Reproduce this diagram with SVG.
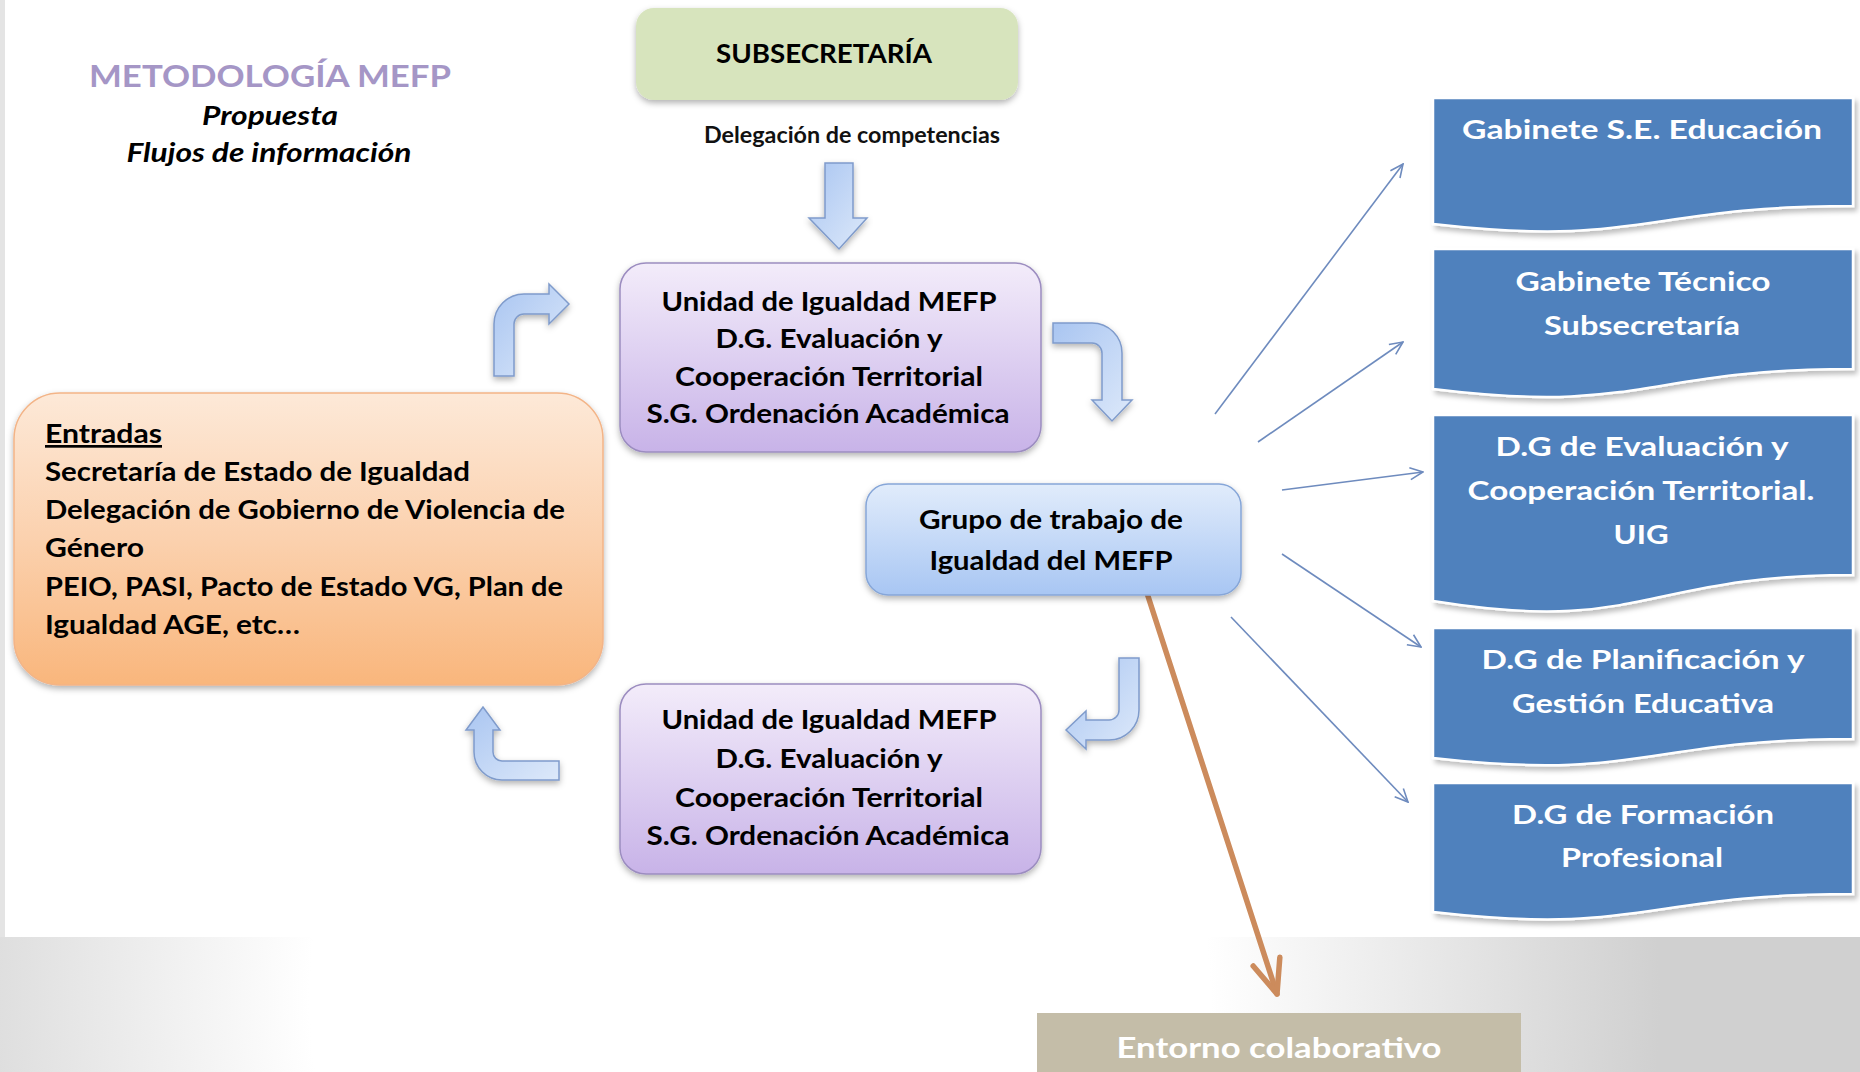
<svg xmlns="http://www.w3.org/2000/svg" width="1860" height="1072" viewBox="0 0 1860 1072">
<defs>
<style>
.t{font-family:Lato,"Liberation Sans","DejaVu Sans",sans-serif;font-weight:bold;}
.blk{fill:#000;}
.wht{fill:#fff;}
.ctr{text-anchor:middle;}
.f27{font-size:27px;}
.f26{font-size:26px;}
.purple{fill:url(#gPurple);stroke:#9C8DC0;stroke-width:1.5;}
.doc{fill:#4F81BD;stroke:#fff;stroke-width:2.5;}
.barrow{fill:url(#gArrow);stroke:#7F9BCB;stroke-width:1.5;}
.conn{stroke:#6E8BBE;stroke-width:1.6;fill:none;}
</style>
<radialGradient id="gBg" cx="760" cy="1000" r="900" gradientUnits="userSpaceOnUse">
<stop offset="0" stop-color="#ffffff"/>
<stop offset="0.5" stop-color="#ffffff"/>
<stop offset="1" stop-color="#d0d0d0"/>
</radialGradient>
<linearGradient id="gPurple" x1="0" y1="0" x2="0" y2="1">
<stop offset="0" stop-color="#F3ECFA"/>
<stop offset="1" stop-color="#C8B3E8"/>
</linearGradient>
<linearGradient id="gOrange" x1="0" y1="0" x2="0" y2="1">
<stop offset="0" stop-color="#FDE9D8"/>
<stop offset="0.5" stop-color="#FBD1AE"/>
<stop offset="1" stop-color="#F9B67C"/>
</linearGradient>
<linearGradient id="gBlue" x1="0" y1="0" x2="0" y2="1">
<stop offset="0" stop-color="#E1ECFB"/>
<stop offset="1" stop-color="#A8C6F3"/>
</linearGradient>
<linearGradient id="gArrow" x1="0" y1="0" x2="1" y2="1">
<stop offset="0" stop-color="#A9C5F1"/>
<stop offset="1" stop-color="#DDE9FA"/>
</linearGradient>
<filter id="sh" x="-10%" y="-10%" width="120%" height="130%">
<feDropShadow dx="0" dy="3" stdDeviation="3" flood-color="#000" flood-opacity="0.3"/>
</filter>
<filter id="shd" x="-10%" y="-10%" width="120%" height="130%">
<feDropShadow dx="3" dy="4" stdDeviation="2.5" flood-color="#000" flood-opacity="0.25"/>
</filter>
<marker id="ah" viewBox="0 0 16 16" refX="15" refY="8" markerWidth="16" markerHeight="16" orient="auto" markerUnits="userSpaceOnUse">
<path d="M2,2 L15,8 L2,14" fill="none" stroke="#6E8BBE" stroke-width="1.6"/>
</marker>
<marker id="ahO" viewBox="0 0 42 42" refX="38" refY="21" markerWidth="42" markerHeight="42" orient="auto" markerUnits="userSpaceOnUse">
<path d="M4,7 L38,21 L4,35" fill="none" stroke="#CC8B5C" stroke-width="5.5" stroke-linecap="round" stroke-linejoin="round"/>
</marker>
</defs>

<!-- background -->
<rect x="0" y="0" width="1860" height="1072" fill="url(#gBg)"/>
<rect x="0" y="0" width="5" height="937" fill="#e4e4e4"/>
<rect x="5" y="0" width="1855" height="937" fill="#ffffff"/>

<!-- title -->
<g id="title">
<text class="t ctr" x="270" y="87" font-size="31" fill="#A596C6" textLength="362" lengthAdjust="spacingAndGlyphs">METODOLOGÍA MEFP</text>
<text class="t ctr blk" x="270" y="125" font-size="26" font-style="italic" textLength="136" lengthAdjust="spacingAndGlyphs">Propuesta</text>
<text class="t ctr blk" x="269" y="162" font-size="26" font-style="italic" textLength="285" lengthAdjust="spacingAndGlyphs">Flujos de información</text>
</g>

<!-- connectors -->
<g id="connectors">
<line class="conn" x1="1215" y1="414" x2="1403" y2="164" marker-end="url(#ah)"/>
<line class="conn" x1="1258" y1="442" x2="1403" y2="342" marker-end="url(#ah)"/>
<line class="conn" x1="1282" y1="490" x2="1423" y2="472" marker-end="url(#ah)"/>
<line class="conn" x1="1282" y1="554" x2="1421" y2="647" marker-end="url(#ah)"/>
<line class="conn" x1="1231" y1="617" x2="1408" y2="802" marker-end="url(#ah)"/>
<line x1="1146" y1="590" x2="1277" y2="994" stroke="#CC8B5C" stroke-width="5.5" stroke-linecap="round" marker-end="url(#ahO)"/>
<!-- block arrows -->
<path class="barrow" filter="url(#sh)" d="M825,163 L853,163 L853,218 L867,218 L839,249 L809,218 L825,218 Z"/>
<path class="barrow" filter="url(#sh)" d="M494,376 L494,324 A30,30 0 0 1 524,294 L549,294 L549,284 L569,304 L549,324 L549,314 L524,314 A10,10 0 0 0 514,324 L514,376 Z"/>
<path class="barrow" filter="url(#sh)" d="M1053,323 L1092,323 A30,30 0 0 1 1122,353 L1122,400 L1132,400 L1112,421 L1092,400 L1102,400 L1102,353 A10,10 0 0 0 1092,343 L1053,343 Z"/>
<path class="barrow" filter="url(#sh)" d="M1119,658 L1139,658 L1139,710 A30,30 0 0 1 1109,740 L1086,740 L1086,749 L1066,730 L1086,711 L1086,720 L1109,720 A10,10 0 0 0 1119,710 Z"/>
<path class="barrow" filter="url(#sh)" d="M559,761 L559,780 L502,780 A28,28 0 0 1 474,752 L474,730 L466,730 L483,707 L500,730 L493,730 L493,752 A9,9 0 0 0 502,761 Z"/>
</g>

<!-- SUBSECRETARIA -->
<g id="subsecretaria">
<rect x="636" y="8" width="382" height="92" rx="18" fill="#D7E4BD" filter="url(#sh)"/>
<text class="t ctr blk" x="824" y="63" font-size="27" textLength="216" lengthAdjust="spacingAndGlyphs">SUBSECRETARÍA</text>
</g>

<g id="delegacion-label">
<text class="t ctr" x="852" y="143" font-size="22" fill="#111" textLength="296" lengthAdjust="spacingAndGlyphs">Delegación de competencias</text>
</g>

<!-- Unidad top -->
<g id="unidad-top">
<rect class="purple" x="620" y="263" width="421" height="189" rx="26" filter="url(#sh)"/>
<text class="t ctr blk f27" x="829" y="311" textLength="335" lengthAdjust="spacingAndGlyphs">Unidad de Igualdad MEFP</text>
<text class="t ctr blk f27" x="829" y="348" textLength="227" lengthAdjust="spacingAndGlyphs">D.G. Evaluación y</text>
<text class="t ctr blk f27" x="829" y="386" textLength="308" lengthAdjust="spacingAndGlyphs">Cooperación Territorial</text>
<text class="t ctr blk f27" x="828" y="423" textLength="363" lengthAdjust="spacingAndGlyphs">S.G. Ordenación Académica</text>
</g>

<!-- Entradas -->
<g id="entradas">
<rect x="14" y="393" width="589" height="292" rx="46" fill="url(#gOrange)" stroke="#F3B487" stroke-width="1.5" filter="url(#sh)"/>
<text class="t blk f27" x="45" y="443" text-decoration="underline" textLength="117" lengthAdjust="spacingAndGlyphs">Entradas</text>
<text class="t blk f27" x="45" y="481" textLength="425" lengthAdjust="spacingAndGlyphs">Secretaría de Estado de Igualdad</text>
<text class="t blk f27" x="45" y="519" textLength="520" lengthAdjust="spacingAndGlyphs">Delegación de Gobierno de Violencia de</text>
<text class="t blk f27" x="45" y="557" textLength="99" lengthAdjust="spacingAndGlyphs">Género</text>
<text class="t blk f27" x="45" y="596" textLength="518" lengthAdjust="spacingAndGlyphs">PEIO, PASI, Pacto de Estado VG, Plan de</text>
<text class="t blk f27" x="45" y="634" textLength="255" lengthAdjust="spacingAndGlyphs">Igualdad AGE, etc…</text>
</g>

<!-- Grupo -->
<g id="grupo">
<rect x="866" y="484" width="375" height="111" rx="22" fill="url(#gBlue)" stroke="#86A6D8" stroke-width="1.5" filter="url(#sh)"/>
<text class="t ctr blk" x="1051" y="529" font-size="26" textLength="264" lengthAdjust="spacingAndGlyphs">Grupo de trabajo de</text>
<text class="t ctr blk" x="1051" y="570" font-size="26" textLength="243" lengthAdjust="spacingAndGlyphs">Igualdad del MEFP</text>
</g>

<!-- Unidad bottom -->
<g id="unidad-bottom">
<rect class="purple" x="620" y="684" width="421" height="190" rx="26" filter="url(#sh)"/>
<text class="t ctr blk f27" x="829" y="729" textLength="335" lengthAdjust="spacingAndGlyphs">Unidad de Igualdad MEFP</text>
<text class="t ctr blk f27" x="829" y="768" textLength="227" lengthAdjust="spacingAndGlyphs">D.G. Evaluación y</text>
<text class="t ctr blk f27" x="829" y="807" textLength="308" lengthAdjust="spacingAndGlyphs">Cooperación Territorial</text>
<text class="t ctr blk f27" x="828" y="845" textLength="363" lengthAdjust="spacingAndGlyphs">S.G. Ordenación Académica</text>
</g>

<!-- Right document boxes -->
<g id="gabinete-se">
<path class="doc" filter="url(#shd)" d="M1433,98 L1853,98 L1853,206 C1643,206 1643,248 1433,224 Z"/>
<text class="t ctr wht f26" x="1642" y="139" textLength="360" lengthAdjust="spacingAndGlyphs">Gabinete S.E.  Educación</text>
</g>
<g id="gabinete-tecnico">
<path class="doc" filter="url(#shd)" d="M1433,249 L1853,249 L1853,369 C1643,369 1643,415 1433,389 Z"/>
<text class="t ctr wht f26" x="1643" y="291" textLength="255" lengthAdjust="spacingAndGlyphs">Gabinete Técnico</text>
<text class="t ctr wht f26" x="1642" y="335" textLength="196" lengthAdjust="spacingAndGlyphs">Subsecretaría</text>
</g>
<g id="dg-evaluacion">
<path class="doc" filter="url(#shd)" d="M1433,415 L1853,415 L1853,575 C1643,575 1643,635 1433,601 Z"/>
<text class="t ctr wht f26" x="1642" y="456" textLength="293" lengthAdjust="spacingAndGlyphs">D.G de Evaluación  y</text>
<text class="t ctr wht f26" x="1641" y="500" textLength="347" lengthAdjust="spacingAndGlyphs">Cooperación  Territorial.</text>
<text class="t ctr wht f26" x="1641" y="544" textLength="55" lengthAdjust="spacingAndGlyphs">UIG</text>
</g>
<g id="dg-planificacion">
<path class="doc" filter="url(#shd)" d="M1433,628 L1853,628 L1853,739 C1643,739 1643,782 1433,758 Z"/>
<text class="t ctr wht f26" x="1643" y="669" textLength="323" lengthAdjust="spacingAndGlyphs">D.G de Planificación  y</text>
<text class="t ctr wht f26" x="1643" y="713" textLength="262" lengthAdjust="spacingAndGlyphs">Gestión  Educativa</text>
</g>
<g id="dg-formacion">
<path class="doc" filter="url(#shd)" d="M1433,783 L1853,783 L1853,894 C1643,894 1643,936 1433,912 Z"/>
<text class="t ctr wht f26" x="1643" y="824" textLength="262" lengthAdjust="spacingAndGlyphs">D.G de Formación</text>
<text class="t ctr wht f26" x="1642" y="867" textLength="162" lengthAdjust="spacingAndGlyphs">Profesional</text>
</g>

<!-- Entorno colaborativo -->
<g id="entorno">
<rect x="1037" y="1013" width="484" height="59" fill="#C4BDA8"/>
<text class="t ctr wht" x="1279" y="1058" font-size="28" textLength="325" lengthAdjust="spacingAndGlyphs">Entorno colaborativo</text>
</g>
</svg>
